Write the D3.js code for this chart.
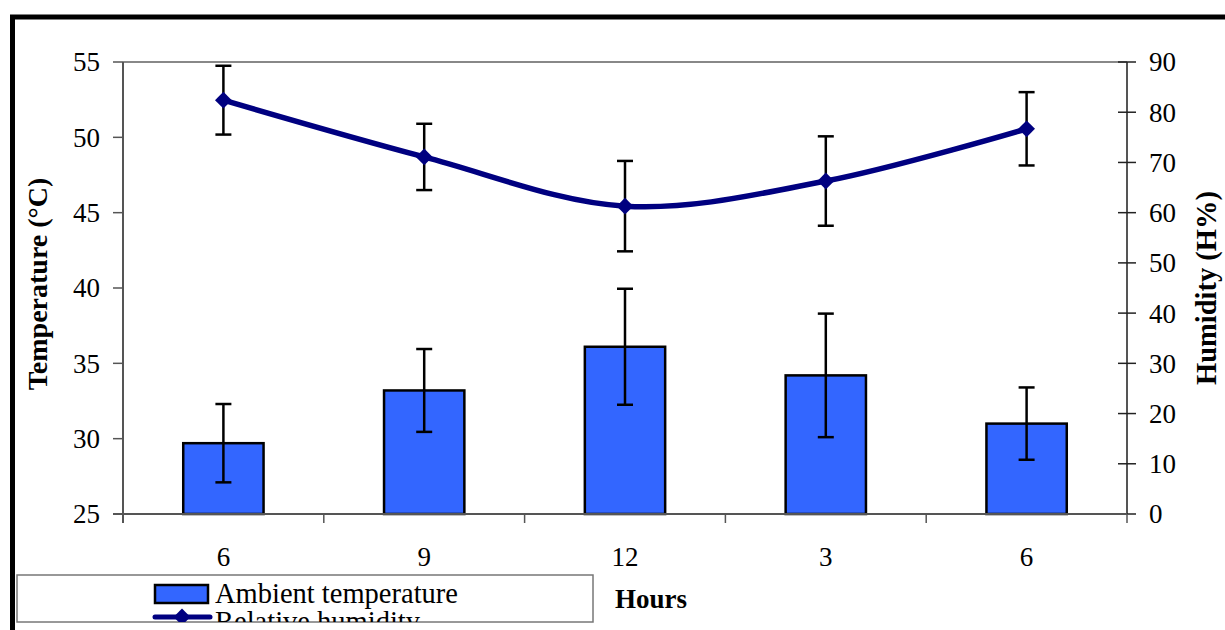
<!DOCTYPE html>
<html>
<head>
<meta charset="utf-8">
<script src="https://cdn.jsdelivr.net/npm/d3@7"></script>
<style>
  body { margin: 0; background: #fff; }
  svg { display: block; }
  text { font-family: "Liberation Serif", "Times New Roman", serif; fill: #000; }
</style>
</head>
<body>
<div id="chart"></div>
<script>
const width = 1225;
const height = 630;

// data
const hours = ['6', '9', '12', '3', '6'];
const temperature = [29.7, 33.2, 36.1, 34.2, 31.0];
const temperatureErr = [2.6, 2.75, 3.85, 4.1, 2.4];
const humidity = [82.4, 71.1, 61.3, 66.3, 76.7];
const humidityErr = [6.85, 6.6, 9.0, 8.9, 7.3];
const tempTicks = [25, 30, 35, 40, 45, 50, 55];
const humTicks = [0, 10, 20, 30, 40, 50, 60, 70, 80, 90];

const plotLeft = 123, plotRight = 1127, plotTop = 62, plotBottom = 514;

const svg = d3.select('#chart')
  .append('svg')
  .attr('width', width)
  .attr('height', height);

// outer frame (only top and left edges visible)
svg.append('rect')
  .attr('x', 12.5)
  .attr('y', 17)
  .attr('width', 1300)
  .attr('height', 700)
  .attr('fill', 'none')
  .attr('stroke', '#000')
  .attr('stroke-width', 5);

const x = d3.scaleBand()
  .domain(d3.range(hours.length))
  .range([plotLeft, plotRight])
  .paddingInner(0.6)
  .paddingOuter(0.3);

const yT = d3.scaleLinear().domain([25, 55]).range([plotBottom, plotTop]);
const yH = d3.scaleLinear().domain([0, 90]).range([plotBottom, plotTop]);

// top border of plot area
svg.append('line')
  .attr('x1', plotLeft).attr('x2', plotRight)
  .attr('y1', plotTop).attr('y2', plotTop)
  .attr('stroke', '#888')
  .attr('stroke-width', 2);

// Bars
svg.selectAll('.bar')
  .data(temperature)
  .enter()
  .append('rect')
  .attr('class', 'bar')
  .attr('x', (d, i) => x(i))
  .attr('y', d => yT(d))
  .attr('width', x.bandwidth())
  .attr('height', d => plotBottom - yT(d))
  .attr('fill', '#3366ff')
  .attr('stroke', '#000')
  .attr('stroke-width', 2.5);

// error bars helper
function errorBars(values, errs, scale, cls) {
  const g = svg.append('g').attr('class', cls)
    .attr('stroke', '#000')
    .attr('stroke-width', 2.5);
  values.forEach((v, i) => {
    const cx = x(i) + x.bandwidth() / 2;
    const y1 = scale(v + errs[i]);
    const y2 = scale(v - errs[i]);
    g.append('line').attr('x1', cx).attr('x2', cx).attr('y1', y1).attr('y2', y2);
    g.append('line').attr('x1', cx - 8).attr('x2', cx + 8).attr('y1', y1).attr('y2', y1);
    g.append('line').attr('x1', cx - 8).attr('x2', cx + 8).attr('y1', y2).attr('y2', y2);
  });
}

errorBars(temperature, temperatureErr, yT, 'temp-err');
errorBars(humidity, humidityErr, yH, 'hum-err');

// Humidity line (smoothed)
const line = d3.line()
  .x((d, i) => x(i) + x.bandwidth() / 2)
  .y(d => yH(d))
  .curve(d3.curveCatmullRom.alpha(0.5));

svg.append('path')
  .datum(humidity)
  .attr('d', line)
  .attr('fill', 'none')
  .attr('stroke', '#000080')
  .attr('stroke-width', 5.5);

const diamond = d3.symbol().type(d3.symbolDiamond2).size(180);
svg.selectAll('.pt')
  .data(humidity)
  .enter()
  .append('path')
  .attr('class', 'pt')
  .attr('d', diamond)
  .attr('transform', (d, i) => `translate(${x(i) + x.bandwidth() / 2},${yH(d)})`)
  .attr('fill', '#000080');

// Axes
const axisColor = '#555';

// left axis
const gl = svg.append('g').attr('id', 'y-axis-left');
gl.append('line')
  .attr('x1', plotLeft).attr('x2', plotLeft)
  .attr('y1', plotTop).attr('y2', plotBottom + 9)
  .attr('stroke', axisColor).attr('stroke-width', 2);
tempTicks.forEach(t => {
  gl.append('line')
    .attr('x1', plotLeft - 10).attr('x2', plotLeft)
    .attr('y1', yT(t)).attr('y2', yT(t))
    .attr('stroke', axisColor).attr('stroke-width', 1.5);
  gl.append('text')
    .attr('x', 100).attr('y', yT(t))
    .attr('dy', '0.35em')
    .attr('text-anchor', 'end')
    .style('font-size', '27px')
    .text(t);
});

// right axis
const gr = svg.append('g').attr('id', 'y-axis-right');
gr.append('line')
  .attr('x1', plotRight).attr('x2', plotRight)
  .attr('y1', plotTop).attr('y2', plotBottom)
  .attr('stroke', axisColor).attr('stroke-width', 2);
humTicks.forEach(t => {
  gr.append('line')
    .attr('x1', plotRight - 9).attr('x2', plotRight + 9)
    .attr('y1', yH(t)).attr('y2', yH(t))
    .attr('stroke', '#222').attr('stroke-width', 1.5);
  gr.append('text')
    .attr('x', 1149).attr('y', yH(t))
    .attr('dy', '0.35em')
    .attr('text-anchor', 'start')
    .style('font-size', '27px')
    .text(t);
});

// bottom axis
const gb = svg.append('g').attr('id', 'x-axis');
gb.append('line')
  .attr('x1', plotLeft - 10).attr('x2', plotRight)
  .attr('y1', plotBottom).attr('y2', plotBottom)
  .attr('stroke', axisColor).attr('stroke-width', 2);
d3.range(hours.length + 1).forEach(i => {
  const bx = plotLeft + i * x.step();
  gb.append('line')
    .attr('x1', bx).attr('x2', bx)
    .attr('y1', plotBottom).attr('y2', plotBottom + 9)
    .attr('stroke', axisColor).attr('stroke-width', 1.5);
});
hours.forEach((h, i) => {
  gb.append('text')
    .attr('x', x(i) + x.bandwidth() / 2)
    .attr('y', 566)
    .attr('text-anchor', 'middle')
    .style('font-size', '27px')
    .text(h);
});

// Axis titles
svg.append('text')
  .attr('transform', 'translate(47,284) rotate(-90)')
  .attr('text-anchor', 'middle')
  .style('font-size', '28px')
  .style('font-weight', 'bold')
  .text('Temperature (°C)');

svg.append('text')
  .attr('transform', 'translate(1216,288) rotate(-90)')
  .attr('text-anchor', 'middle')
  .style('font-size', '28.5px')
  .style('font-weight', 'bold')
  .text('Humidity (H%)');

svg.append('text')
  .attr('x', 651).attr('y', 608)
  .attr('text-anchor', 'middle')
  .style('font-size', '27px')
  .style('font-weight', 'bold')
  .text('Hours');

// Legend (its second row is clipped at the bottom edge)
svg.append('clipPath')
  .attr('id', 'legend-clip')
  .append('rect')
  .attr('x', 17).attr('y', 575)
  .attr('width', 576).attr('height', 47);

svg.append('rect')
  .attr('x', 17).attr('y', 575)
  .attr('width', 576).attr('height', 47)
  .attr('fill', '#fff')
  .attr('stroke', '#777')
  .attr('stroke-width', 1.5);

const legend = svg.append('g').attr('clip-path', 'url(#legend-clip)');
legend.append('rect')
  .attr('x', 155).attr('y', 585)
  .attr('width', 53).attr('height', 18)
  .attr('fill', '#3366ff')
  .attr('stroke', '#000')
  .attr('stroke-width', 2.5);
legend.append('text')
  .attr('x', 215).attr('y', 603)
  .style('font-size', '28.5px')
  .text('Ambient temperature');

legend.append('line')
  .attr('x1', 155).attr('x2', 210)
  .attr('y1', 617).attr('y2', 617)
  .attr('stroke', '#000080')
  .attr('stroke-width', 5)
  .attr('stroke-linecap', 'round');
legend.append('path')
  .attr('d', diamond)
  .attr('transform', 'translate(182,617)')
  .attr('fill', '#000080');
legend.append('text')
  .attr('x', 215).attr('y', 631)
  .style('font-size', '28.5px')
  .text('Relative humidity');
</script>
</body>
</html>
